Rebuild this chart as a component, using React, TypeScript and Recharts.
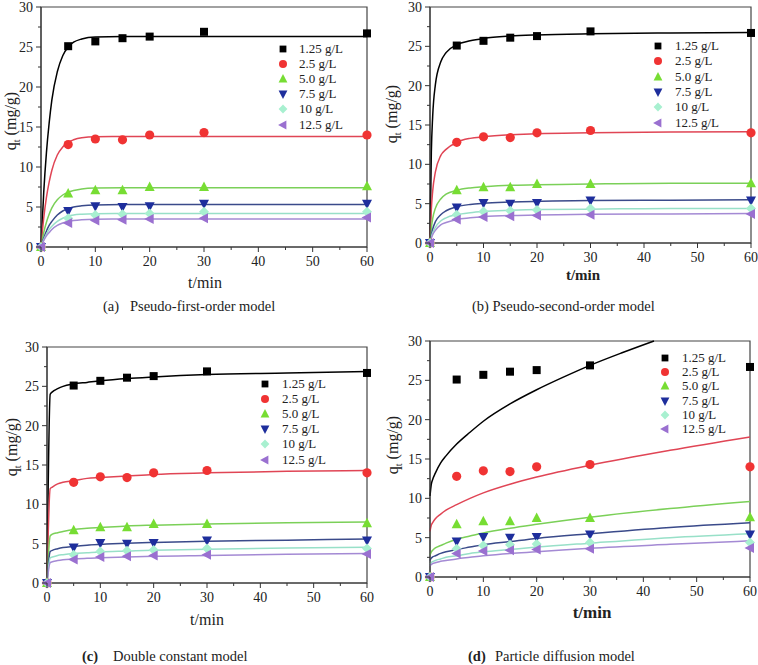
import React from 'react'
import { ComposedChart, Line, Scatter, XAxis, YAxis, ReferenceArea } from 'recharts'

// measured points, same in every panel
const T_POINTS = [0, 5, 10, 15, 20, 30, 60]
const Q_POINTS: number[][] = [
  [0, 25.1, 25.7, 26.1, 26.3, 26.9, 26.7],
  [0, 12.8, 13.5, 13.4, 14.0, 14.3, 14.0],
  [0, 6.7, 7.1, 7.1, 7.5, 7.5, 7.6],
  [0, 4.5, 5.1, 5.0, 5.1, 5.4, 5.4],
  [0, 3.6, 4.0, 4.1, 4.2, 4.4, 4.4],
  [0, 3.0, 3.3, 3.4, 3.5, 3.6, 3.7],
]
const LABELS = ['1.25 g/L', '2.5 g/L', '5.0 g/L', '7.5 g/L', '10 g/L', '12.5 g/L']
const MARKERS = ['square', 'circle', 'up', 'down', 'diamond', 'left']
const MARKER_COLORS = ['#000000', '#f03333', '#77dd33', '#1e2e9c', '#a8f0d0', '#9a70d0']
const LINE_COLORS = ['#000000', '#e04555', '#7bd058', '#3a4a8a', '#98e0c8', '#a48ad4']

const X_TICKS = [0, 5, 10, 15, 20, 25, 30, 35, 40, 45, 50, 55, 60]
const Y_TICKS = [0, 2.5, 5, 7.5, 10, 12.5, 15, 17.5, 20, 22.5, 25, 27.5, 30]

// (a) pseudo-first-order fit curves
const FIT_T_A = [0, 0.5, 1, 1.5, 2, 3, 4, 5, 6, 7.5, 10, 15, 60]
const FIT_A: number[][] = [
  [0, 6.8, 11.8, 15.5, 18.4, 21.9, 23.9, 25.0, 25.6, 26.0, 26.25, 26.3, 26.3],
  [0, 3.6, 6.2, 8.1, 9.6, 11.5, 12.5, 13.1, 13.4, 13.65, 13.78, 13.8, 13.8],
  [0, 1.8, 3.1, 4.1, 4.9, 5.9, 6.5, 6.85, 7.05, 7.25, 7.36, 7.4, 7.4],
  [0, 1.1, 2.0, 2.7, 3.2, 4.0, 4.5, 4.8, 5.0, 5.15, 5.26, 5.3, 5.3],
  [0, 0.9, 1.6, 2.2, 2.6, 3.2, 3.6, 3.85, 4.0, 4.1, 4.17, 4.2, 4.2],
  [0, 0.8, 1.4, 1.8, 2.2, 2.7, 3.0, 3.2, 3.32, 3.42, 3.48, 3.5, 3.5],
]

// (b) pseudo-second-order fit curves
const FIT_T_B = [0, 0.25, 0.5, 1, 2, 3, 5, 7.5, 10, 15, 20, 30, 45, 60]
const FIT_B: number[][] = [
  [0, 11.5, 16.1, 20.1, 23.0, 24.2, 25.2, 25.7, 26.0, 26.3, 26.45, 26.6, 26.7, 26.75],
  [0, 4.3, 6.6, 9.0, 11.1, 11.9, 12.8, 13.3, 13.5, 13.75, 13.9, 14.0, 14.1, 14.15],
  [0, 1.9, 3.1, 4.4, 5.6, 6.2, 6.7, 7.0, 7.15, 7.35, 7.4, 7.5, 7.6, 7.6],
  [0, 1.0, 1.75, 2.7, 3.6, 4.1, 4.6, 4.9, 5.05, 5.2, 5.3, 5.4, 5.45, 5.5],
  [0, 0.75, 1.3, 2.0, 2.8, 3.2, 3.6, 3.85, 4.0, 4.15, 4.25, 4.3, 4.4, 4.4],
  [0, 0.6, 1.05, 1.6, 2.3, 2.6, 3.0, 3.2, 3.35, 3.5, 3.55, 3.65, 3.7, 3.75],
]

// (c) double constant fit curves
const FIT_T_C = [0, 0.6, 1, 2, 3, 5, 7.5, 10, 15, 20, 30, 45, 60]
const FIT_C: number[][] = [
  [0, 24.0, 24.3, 24.7, 25.0, 25.3, 25.5, 25.7, 26.0, 26.2, 26.5, 26.7, 26.9],
  [0, 12.0, 12.2, 12.6, 12.8, 13.0, 13.3, 13.4, 13.6, 13.8, 14.0, 14.2, 14.3],
  [0, 6.0, 6.2, 6.4, 6.55, 6.8, 6.95, 7.05, 7.25, 7.35, 7.5, 7.65, 7.75],
  [0, 4.0, 4.15, 4.35, 4.5, 4.65, 4.8, 4.9, 5.05, 5.15, 5.3, 5.45, 5.6],
  [0, 3.2, 3.3, 3.5, 3.6, 3.75, 3.85, 3.95, 4.05, 4.15, 4.3, 4.45, 4.55],
  [0, 2.6, 2.7, 2.85, 2.95, 3.05, 3.15, 3.2, 3.3, 3.4, 3.5, 3.65, 3.75],
]

// (d) particle diffusion fit curves (1.25 g/L leaves the frame near t = 42)
const FIT_T_D_TOP = [0, 0.25, 0.5, 1, 2, 3, 5, 7.5, 10, 15, 20, 25, 30, 36, 42]
const FIT_T_D = [0, 0.25, 0.5, 1, 2, 3, 5, 7.5, 10, 15, 20, 30, 45, 60]
const FIT_D: number[][] = [
  [10.3, 11.8, 12.4, 13.2, 14.5, 15.4, 16.9, 18.4, 19.8, 22.0, 23.8, 25.4, 26.9, 28.5, 30.0],
  [5.8, 6.6, 6.9, 7.4, 8.0, 8.5, 9.2, 10.0, 10.7, 11.8, 12.7, 14.2, 16.1, 17.8],
  [2.8, 3.2, 3.4, 3.7, 4.0, 4.3, 4.8, 5.2, 5.6, 6.2, 6.7, 7.6, 8.7, 9.6],
  [2.1, 2.4, 2.55, 2.7, 3.0, 3.2, 3.5, 3.8, 4.1, 4.5, 4.9, 5.5, 6.3, 6.9],
  [1.6, 1.85, 1.95, 2.1, 2.3, 2.5, 2.7, 3.0, 3.2, 3.5, 3.8, 4.3, 5.0, 5.5],
  [1.4, 1.6, 1.7, 1.8, 2.0, 2.1, 2.3, 2.5, 2.7, 3.0, 3.2, 3.65, 4.15, 4.6],
]

const SERIF = '"Liberation Serif", "Times New Roman", Times, serif'

function marker(kind: string, cx: number, cy: number, color: string, s = 1) {
  const r = 4 * s
  switch (kind) {
    case 'square':
      return <rect x={cx - r} y={cy - r} width={2 * r} height={2 * r} fill={color} />
    case 'circle':
      return <circle cx={cx} cy={cy} r={r + 0.6} fill={color} />
    case 'up':
      return <polygon points={`${cx},${cy - r - 1.5} ${cx - r - 1},${cy + r} ${cx + r + 1},${cy + r}`} fill={color} />
    case 'down':
      return <polygon points={`${cx - r - 1},${cy - r} ${cx + r + 1},${cy - r} ${cx},${cy + r + 1.5}`} fill={color} />
    case 'diamond':
      return <polygon points={`${cx},${cy - r - 1} ${cx + r + 1},${cy} ${cx},${cy + r + 1} ${cx - r - 1},${cy}`} fill={color} />
    default:
      return <polygon points={`${cx - r - 1.5},${cy} ${cx + r},${cy - r - 1} ${cx + r},${cy + r + 1}`} fill={color} />
  }
}

interface PanelProps {
  left: number
  top: number
  width: number
  height: number
  plot: { l: number; r: number; t: number; b: number }
  fitT: number[][]
  fits: number[][]
}

const Y_W = 30
const X_H = 20

function Panel({ left, top, width, height, plot, fitT, fits }: PanelProps) {
  const bottomY = plot.b
  const leftX = plot.l

  const xTick = (props: any) => {
    const v = props.payload.value
    const major = v % 10 === 0
    return (
      <g>
        <line x1={props.x} x2={props.x} y1={bottomY} y2={bottomY + (major ? 5 : 3)} stroke="#333" />
        {major && (
          <text x={props.x} y={bottomY + 19} textAnchor="middle" fontFamily={SERIF} fontSize={14} fill="#222">
            {v}
          </text>
        )}
      </g>
    )
  }
  const yTick = (props: any) => {
    const v = props.payload.value
    const major = v % 5 === 0
    return (
      <g>
        <line x1={leftX - (major ? 5 : 3)} x2={leftX} y1={props.y} y2={props.y} stroke="#333" />
        {major && (
          <text x={leftX - 8} y={props.y + 5} textAnchor="end" fontFamily={SERIF} fontSize={14} fill="#222">
            {v}
          </text>
        )}
      </g>
    )
  }

  return (
    <div style={{ position: 'absolute', left, top }}>
      <ComposedChart
        width={width}
        height={height}
        margin={{ top: plot.t, left: plot.l - Y_W, right: width - plot.r, bottom: height - plot.b - X_H }}
      >
        <XAxis
          dataKey="t"
          type="number"
          domain={[0, 60]}
          ticks={X_TICKS}
          interval={0}
          height={X_H}
          tickSize={0}
          tickMargin={0}
          tick={xTick}
          stroke="#333"
        />
        <YAxis
          dataKey="q"
          type="number"
          domain={[0, 30]}
          ticks={Y_TICKS}
          interval={0}
          width={Y_W}
          tickSize={0}
          tickMargin={0}
          tick={yTick}
          stroke="#333"
        />
        <ReferenceArea x1={0} x2={60} y1={0} y2={30} fill="none" stroke="#444" strokeWidth={1.2} />
        {fits.map((vals, i) => (
          <Line
            key={`fit${i}`}
            data={vals.map((q, j) => ({ t: fitT[i][j], q }))}
            dataKey="q"
            type="monotone"
            stroke={LINE_COLORS[i]}
            strokeWidth={1.5}
            dot={false}
            activeDot={false}
            isAnimationActive={false}
          />
        ))}
        {Q_POINTS.map((vals, i) => (
          <Scatter
            key={`pts${i}`}
            data={vals.map((q, j) => ({ t: T_POINTS[j], q }))}
            dataKey="q"
            isAnimationActive={false}
            shape={(p: any) => marker(MARKERS[i], p.cx, p.cy, MARKER_COLORS[i])}
          />
        ))}
      </ComposedChart>
    </div>
  )
}

function LegendBox({ mx, tx, y0, dy }: { mx: number; tx: number; y0: number; dy: number }) {
  return (
    <>
      {LABELS.map((lab, i) => (
        <div key={lab}>
          <svg
            width={16}
            height={16}
            style={{ position: 'absolute', left: mx - 8, top: y0 + i * dy - 8, overflow: 'visible' }}
          >
            {marker(MARKERS[i], 8, 8, MARKER_COLORS[i], 0.85)}
          </svg>
          <div
            style={{
              position: 'absolute',
              left: tx,
              top: y0 + i * dy - 7,
              fontFamily: SERIF,
              fontSize: 13,
              lineHeight: '14px',
              color: '#222',
              whiteSpace: 'nowrap',
            }}
          >
            {lab}
          </div>
        </div>
      ))}
    </>
  )
}

function Text({ x, y, children, size = 16, bold = false, center = true }: any) {
  return (
    <div
      style={{
        position: 'absolute',
        left: x,
        top: y,
        transform: center ? 'translate(-50%, -50%)' : 'translateY(-50%)',
        fontFamily: SERIF,
        fontSize: size,
        fontWeight: bold ? 'bold' : 'normal',
        color: '#222',
        whiteSpace: 'pre',
      }}
    >
      {children}
    </div>
  )
}

function YLabel({ x, y }: { x: number; y: number }) {
  return (
    <div
      style={{
        position: 'absolute',
        left: x,
        top: y,
        transform: 'translate(-50%, -50%) rotate(-90deg)',
        fontFamily: SERIF,
        fontSize: 16,
        color: '#222',
        whiteSpace: 'nowrap',
      }}
    >
      q<sub style={{ fontSize: 10 }}>t</sub> (mg/g)
    </div>
  )
}

const repeat = (t: number[]) => LABELS.map(() => t)

export default function App() {
  return (
    <div style={{ position: 'relative', width: 758, height: 665, background: '#fff', overflow: 'hidden' }}>
      <style>{'body{margin:0}'}</style>
      <Panel left={0} top={0} width={379} height={330} plot={{ l: 41, r: 367, t: 7, b: 247 }} fitT={repeat(FIT_T_A)} fits={FIT_A} />
      <Panel left={379} top={0} width={379} height={330} plot={{ l: 51, r: 372, t: 7, b: 243 }} fitT={repeat(FIT_T_B)} fits={FIT_B} />
      <Panel left={0} top={330} width={379} height={335} plot={{ l: 47, r: 367, t: 17, b: 253 }} fitT={repeat(FIT_T_C)} fits={FIT_C} />
      <Panel
        left={379}
        top={330}
        width={379}
        height={335}
        plot={{ l: 51, r: 371, t: 11, b: 247 }}
        fitT={[FIT_T_D_TOP, ...repeat(FIT_T_D).slice(1)]}
        fits={FIT_D}
      />

      <LegendBox mx={283} tx={299} y0={48.5} dy={15.2} />
      <LegendBox mx={658} tx={675} y0={46} dy={15.3} />
      <LegendBox mx={265} tx={282} y0={384} dy={15.1} />
      <LegendBox mx={665} tx={682} y0={358} dy={14.2} />

      <Text x={205} y={283}>t/min</Text>
      <Text x={583} y={275} bold size={15}>t/min</Text>
      <Text x={207} y={620}>t/min</Text>
      <Text x={592} y={613} bold size={17}>t/min</Text>

      <YLabel x={12} y={121} />
      <YLabel x={393} y={114} />
      <YLabel x={13} y={447} />
      <YLabel x={394} y={445} />

      <Text x={103} y={306} size={14.5} center={false}>(a)   Pseudo-first-order model</Text>
      <Text x={472} y={306} size={14.5} center={false}>(b) Pseudo-second-order model</Text>
      <Text x={82} y={656} size={14.5} center={false} bold>(c)</Text>
      <Text x={113} y={656} size={14.5} center={false}>Double constant model</Text>
      <Text x={468} y={656} size={14.5} center={false} bold>(d)</Text>
      <Text x={495} y={656} size={14.5} center={false}>Particle diffusion model</Text>
    </div>
  )
}
